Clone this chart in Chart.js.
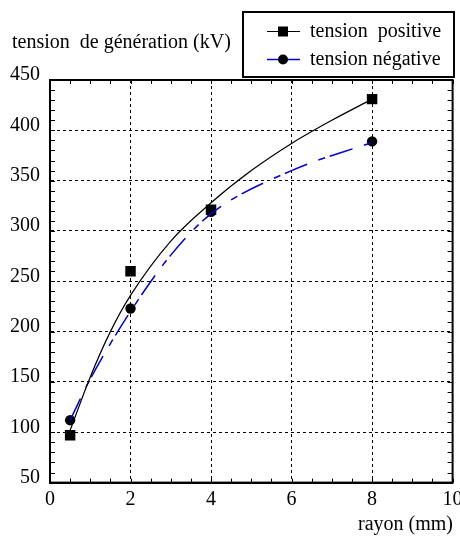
<!DOCTYPE html>
<html>
<head>
<meta charset="utf-8">
<script src="https://cdn.jsdelivr.net/npm/chart.js@4/dist/chart.umd.min.js"></script>
<style>
  html, body { margin: 0; padding: 0; background: #fff; }
  #wrap { width: 460px; height: 537px; position: relative; }
</style>
</head>
<body>
<div id="wrap"><canvas id="chart"></canvas></div>
<script>
// measured points
const rayon = [0.5, 2, 4, 8];
const tensionPositive = [97, 260, 321, 431];
const tensionNegative = [112, 223, 319, 389];

// fitted curves
const curvePosX = [0.5, 1, 1.5, 2, 3, 4, 5, 6, 7, 8];
const curvePositive = [102, 155, 200, 236, 290, 328, 360, 387, 410, 431];
const curveNegX = [0.5, 1, 2, 3, 4, 6, 8];
const curveNegative = [112, 153, 220, 276, 317, 360, 388];

const xTicks = [0, 2, 4, 6, 8, 10];
const yTicks = [50, 100, 150, 200, 250, 300, 350, 400, 450];

const yTitle = 'tension  de génération (kV)';
const xTitle = 'rayon (mm)';
const labelPos = 'tension  positive';
const labelNeg = 'tension négative';

const FONT = '20px "Liberation Serif", "Times New Roman", serif';
const BLUE = '#0000d0';

function toXY(xs, ys) {
    return xs.map((x, i) => ({ x: x, y: ys[i] }));
}

// minor ticks, frame, axis titles and legend box
const decorPlugin = {
    id: 'decor',
    afterDraw(chart) {
        const ctx = chart.ctx;
        const a = chart.chartArea;
        const xs = chart.scales.x;
        const ys = chart.scales.y;
        ctx.save();
        ctx.strokeStyle = '#000';
        ctx.lineWidth = 1;
        ctx.beginPath();
        for (let v = 0; v <= 10; v += 0.5) {
            const px = Math.round(xs.getPixelForValue(v)) + 0.5;
            ctx.moveTo(px, a.bottom); ctx.lineTo(px, a.bottom - 4);
            ctx.moveTo(px, a.top); ctx.lineTo(px, a.top + 4);
        }
        for (let v = 50; v <= 450; v += 10) {
            const py = Math.round(ys.getPixelForValue(v)) + 0.5;
            ctx.moveTo(a.left, py); ctx.lineTo(a.left + 5, py);
            ctx.moveTo(a.right, py); ctx.lineTo(a.right - 5, py);
        }
        ctx.stroke();

        ctx.lineWidth = 2;
        ctx.strokeRect(a.left, a.top, a.right - a.left, a.bottom - a.top);

        ctx.fillStyle = '#000';
        ctx.font = FONT;
        ctx.textBaseline = 'alphabetic';
        ctx.textAlign = 'left';
        ctx.fillText(yTitle, 12, 48);
        ctx.textAlign = 'right';
        ctx.fillText(xTitle, 453, 530);

        // legend
        ctx.lineWidth = 2;
        ctx.strokeRect(243, 12, 211, 65);
        ctx.textAlign = 'left';
        ctx.fillText(labelPos, 310, 37);
        ctx.fillText(labelNeg, 310, 65);

        ctx.lineWidth = 1;
        ctx.strokeStyle = '#000';
        ctx.beginPath();
        ctx.moveTo(267, 31.5); ctx.lineTo(300, 31.5);
        ctx.stroke();
        ctx.fillRect(278, 26.5, 10, 10);

        ctx.strokeStyle = BLUE;
        ctx.lineWidth = 1.5;
        ctx.beginPath();
        ctx.moveTo(267, 59.5); ctx.lineTo(300, 59.5);
        ctx.stroke();
        ctx.beginPath();
        ctx.arc(283, 59.5, 5, 0, Math.PI * 2);
        ctx.fill();
        ctx.restore();
    }
};

const ctx = document.getElementById('chart').getContext('2d');
const chart = new Chart(ctx, {
    type: 'scatter',
    data: {
        datasets: [
            {
                label: 'courbe positive',
                type: 'line',
                data: toXY(curvePosX, curvePositive),
                borderColor: '#000',
                borderWidth: 1.2,
                pointRadius: 0,
                cubicInterpolationMode: 'monotone',
                fill: false
            },
            {
                label: 'courbe négative',
                type: 'line',
                data: toXY(curveNegX, curveNegative),
                borderColor: BLUE,
                borderWidth: 1.5,
                borderDash: [24, 12, 7, 5],
                pointRadius: 0,
                cubicInterpolationMode: 'monotone',
                fill: false
            },
            {
                label: labelNeg,
                data: toXY(rayon, tensionNegative),
                pointStyle: 'circle',
                pointRadius: 5.2,
                backgroundColor: '#000',
                borderWidth: 0
            },
            {
                label: labelPos,
                data: toXY(rayon, tensionPositive),
                pointStyle: 'rect',
                pointRadius: 7.4,
                backgroundColor: '#000',
                borderWidth: 0
            }
        ]
    },
    options: {
        responsive: true,
        maintainAspectRatio: false,
        animation: false,
        layout: { padding: { top: 80, right: 6, left: 0, bottom: 0 } },
        plugins: {
            legend: { display: false },
            tooltip: { enabled: false }
        },
        scales: {
            x: {
                type: 'linear',
                min: 0,
                max: 10,
                afterBuildTicks: (s) => { s.ticks = xTicks.map(v => ({ value: v })); },
                afterFit: (s) => { s.height = 54.4; s.paddingLeft = 0; s.paddingRight = 0; },
                ticks: { color: '#000', font: { family: '"Liberation Serif", serif', size: 20 }, padding: 5, maxRotation: 0 },
                grid: { color: '#000', lineWidth: 1, drawTicks: false },
                border: { display: true, color: '#000', width: 2, dash: [3, 3] }
            },
            y: {
                min: 50,
                max: 450,
                afterBuildTicks: (s) => { s.ticks = yTicks.map(v => ({ value: v })); },
                afterFit: (s) => { s.width = 50; s.paddingTop = 0; s.paddingBottom = 0; },
                ticks: { color: '#000', font: { family: '"Liberation Serif", serif', size: 20 }, padding: 10, labelOffset: -5 },
                grid: { color: '#000', lineWidth: 1, drawTicks: false },
                border: { display: true, color: '#000', width: 2, dash: [3, 3] }
            }
        }
    },
    plugins: [decorPlugin]
});
</script>
</body>
</html>
